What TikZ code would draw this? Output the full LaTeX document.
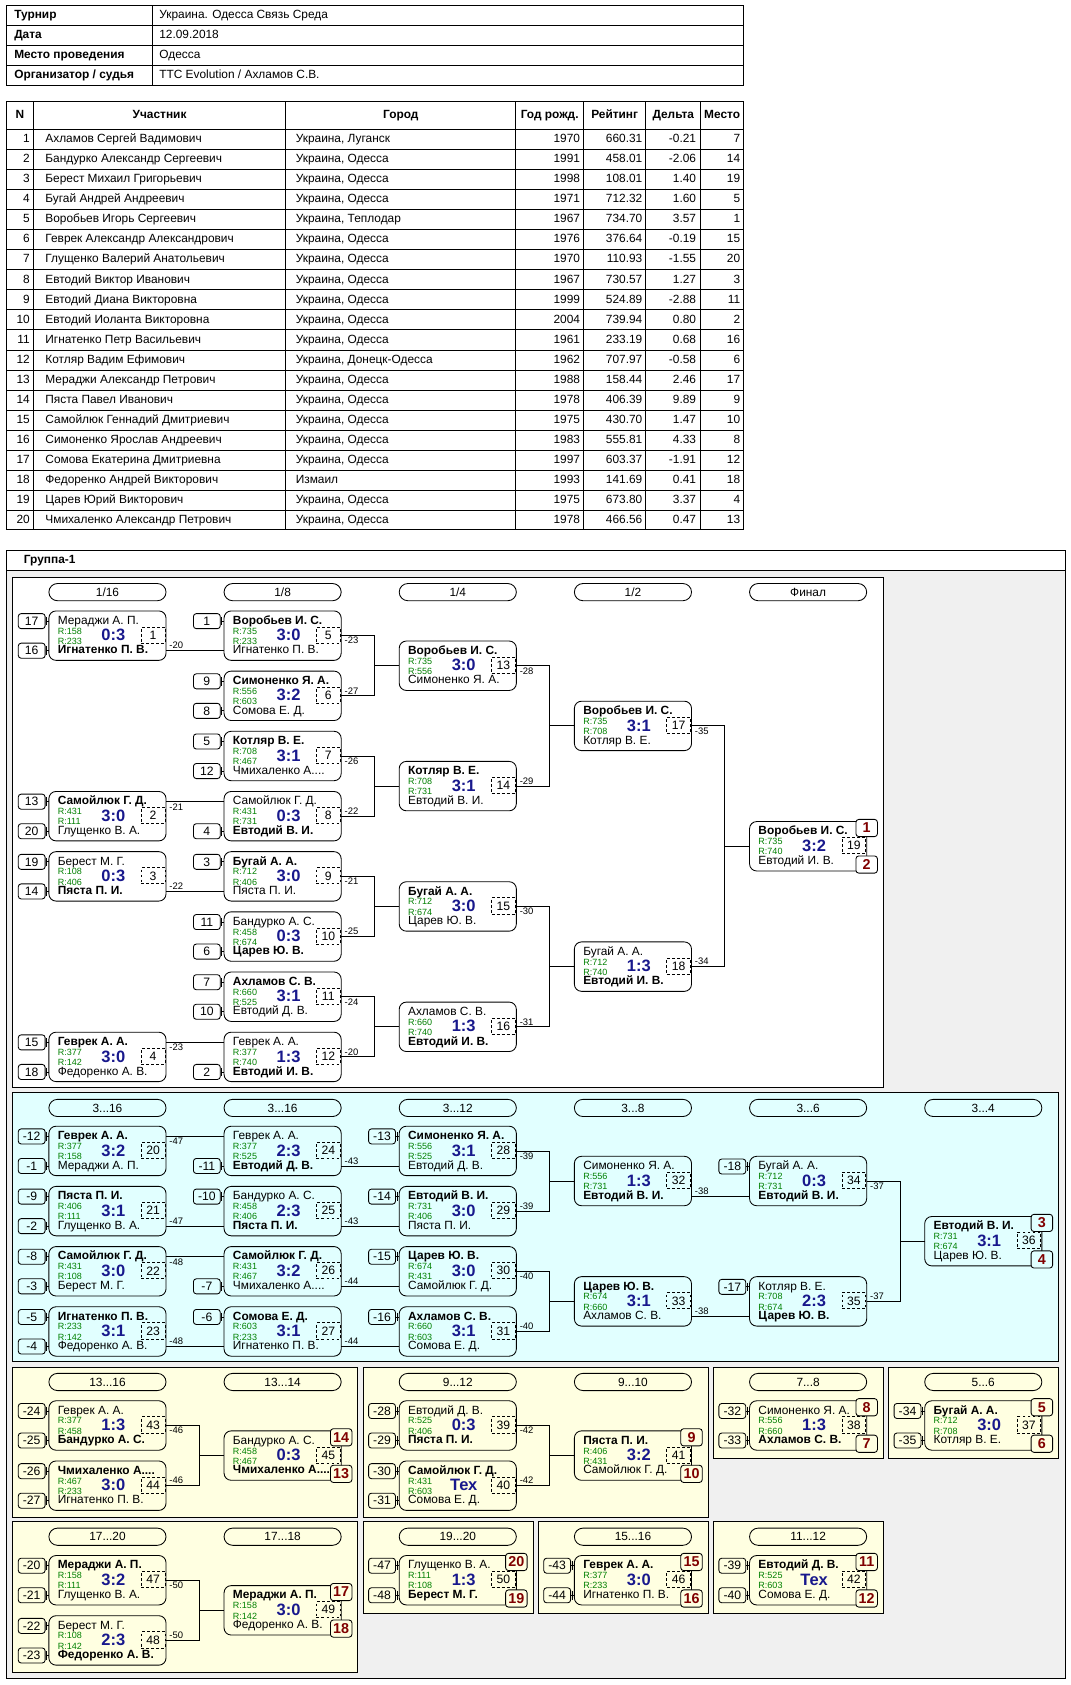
\documentclass[tikz,border=0pt]{standalone}
\usepackage{fontspec}
\setmainfont{Liberation Sans}
\usetikzlibrary{calc}
\definecolor{scorec}{RGB}{24,24,140}
\definecolor{ratc}{RGB}{0,128,0}
\definecolor{placec}{RGB}{128,0,0}
\definecolor{cyanbg}{RGB}{225,255,255}
\definecolor{yelbg}{RGB}{255,255,225}
\definecolor{greybg}{RGB}{240,240,240}
\newcommand\fname{\fontsize{8.3}{9}\selectfont}
\newcommand\frat{\fontsize{6.3}{7}\selectfont}
\newcommand\fscore{\fontsize{11.5}{12}\selectfont\bfseries}
\newcommand\flbl{\fontsize{6.6}{7}\selectfont}
\newcommand\fseed{\fontsize{8.5}{9}\selectfont}
\newcommand\fplace{\fontsize{10}{11}\selectfont\bfseries}
\newcommand\ftab{\fontsize{8.3}{9}\selectfont}
\newcounter{nid}
\def\curbg{white}
\newcommand\mt[9]{%
 \node[mbox] (#1) at ({#2+54.5},{#3+23}) {};
 \coordinate (#1-t) at ({#2+109},{#3+9.5});
 \coordinate (#1-b) at ({#2+109},{#3+37});
 \coordinate (#1-m) at ({#2+109},{#3+23});
 \coordinate (#1-lt) at ({#2},{#3+9.5});
 \coordinate (#1-lb) at ({#2},{#3+37});
 \coordinate (#1-lm) at ({#2},{#3+23});
 \node[nm] (#1-n1) at ({#2+8},{#3+9.5}) {#4};
 \node[nm] (#1-n2) at ({#2+8},{#3+37}) {#5};
 \node[rat] (#1-r1) at ({#2+8},{#3+18.5}) {R:#6};
 \node[rat] (#1-r2) at ({#2+8},{#3+28}) {R:#7};
 \node[sc] (#1-s) at ({#2+60},{#3+22.5}) {#8};
 \node[numb] (#1-k) at ({#2+97},{#3+22.5}) {#9};
}
\newcommand\seed[3]{\stepcounter{nid}%
 \node[seedb] (sd\arabic{nid}) at ({#1-16},{#2}) {#3};
 \draw[ln] (sd\arabic{nid}.east) -- ({#1},{#2});
 \draw[ln] ({#1-2},{#2-4}) -- ({#1-2},{#2+4});}
\newcommand\plc[3]{\stepcounter{nid}\node[plb] (pl\arabic{nid}) at ({#1},{#2}) {#3};}
\newcommand\lbb[2]{\stepcounter{nid}\node[lbl,anchor=north west] (lb\arabic{nid}) at (#1) {#2};}
\newcommand\lba[2]{\stepcounter{nid}\node[lbl,anchor=south west] (lb\arabic{nid}) at (#1) {#2};}
\newcommand\rh[3]{\stepcounter{nid}\node[rhb] (rh\arabic{nid}) at ({#1+54.5},{#2+14}) {#3};}
\newcommand\pair[3]{\draw[ln] (#1-m) -- ++(31,0) |- (#3-lm); \draw[ln] (#2-m) -- ++(31,0) |- (#3-lm);}
\newcommand\info[3]{\node[tl,font=\ftab\bfseries] (ia#1) at (13,{5.25+(#1-0.5)*18.5}) {#2};
 \node[tl] (ib#1) at (148,{5.25+(#1-0.5)*18.5}) {#3};}
\newcommand\prow[7]{%
 \pgfmathsetmacro\ry{120.7+(#1-0.5)*18.63}
 \node[tr] (pa#1) at (28,\ry) {#1};
 \node[tl] (pb#1) at (42,\ry) {#2};
 \node[tl] (pc#1) at (275,\ry) {#3};
 \node[tr] (pd#1) at (540,\ry) {#4};
 \node[tr] (pe#1) at (598,\ry) {#5};
 \node[tr] (pf#1) at (648,\ry) {#6};
 \node[tr] (pg#1) at (689,\ry) {#7};}
\begin{document}
\begin{tikzpicture}[x=0.75pt,y=-0.75pt,
 ln/.style={line width=0.6pt},
 mbox/.style={draw, line width=0.6pt, rounded corners=5pt, minimum width=81.75pt, minimum height=34.5pt, inner sep=0pt},
 nm/.style={anchor=west, inner sep=0pt, font=\fname, text height=6pt, text depth=1.6pt},
 rat/.style={anchor=west, inner sep=0pt, font=\frat, text=ratc, text height=4.6pt, text depth=0pt},
 sc/.style={inner sep=0pt, font=\fscore, text=scorec},
 numb/.style={draw, dash pattern=on 2pt off 1.5pt, line width=0.6pt, minimum width=16.5pt, minimum height=11.25pt, inner sep=0pt, font=\fseed},
 seedb/.style={draw, line width=0.6pt, rounded corners=2pt, minimum width=18.75pt, minimum height=10.5pt, inner sep=0pt, font=\fseed},
 plb/.style={draw, line width=0.6pt, fill=\curbg, rounded corners=2pt, minimum width=15pt, minimum height=12pt, inner sep=0pt, font=\fplace, text=placec},
 rhb/.style={draw, line width=0.6pt, rounded corners=6pt, minimum width=81.75pt, minimum height=12pt, inner sep=0pt, font=\fname},
 lbl/.style={font=\flbl, inner sep=1pt, xshift=1.2pt},
 tl/.style={anchor=west, inner sep=0pt, font=\ftab, text height=6pt, text depth=1.6pt},
 tr/.style={anchor=east, inner sep=0pt, font=\ftab, text height=6pt, text depth=1.6pt},
 tc/.style={inner sep=0pt, font=\ftab\bfseries, text height=6pt, text depth=1.6pt}]
\useasboundingbox (0,0) rectangle (996,1568);
\fill[white] (0,0) rectangle (996,1568);
% ---------- info table
\draw[ln] (6,5.25) rectangle (692,79.25);
\foreach \yy in {23.75,42.25,60.75} \draw[ln] (6,\yy) -- (692,\yy);
\draw[ln] (142,5.25) -- (142,79.25);
\info{1}{Турнир}{Украина. Одесса Связь Среда}
\info{2}{Дата}{12.09.2018}
\info{3}{Место проведения}{Одесса}
\info{4}{Организатор / судья}{TTC Evolution / Ахламов С.В.}
% ---------- players table
\draw[ln] (6,94) rectangle (692,493);
\foreach \k in {0,...,19} \draw[ln] (6,{120.7+\k*18.63}) -- (692,{120.7+\k*18.63});
\foreach \xx in {31,266,480,543,601,652} \draw[ln] (\xx,94) -- (\xx,493);
\node[tc] (hA) at (18.5,107.3) {N};
\node[tc] (hB) at (148.5,107.3) {Участник};
\node[tc] (hC) at (373,107.3) {Город};
\node[tc] (hD) at (511.5,107.3) {Год рожд.};
\node[tc] (hE) at (572,107.3) {Рейтинг};
\node[tc] (hF) at (626.5,107.3) {Дельта};
\node[tc] (hG) at (672,107.3) {Место};
\prow{1}{Ахламов Сергей Вадимович}{Украина, Луганск}{1970}{660.31}{-0.21}{7}
\prow{2}{Бандурко Александр Сергеевич}{Украина, Одесса}{1991}{458.01}{-2.06}{14}
\prow{3}{Берест Михаил Григорьевич}{Украина, Одесса}{1998}{108.01}{1.40}{19}
\prow{4}{Бугай Андрей Андреевич}{Украина, Одесса}{1971}{712.32}{1.60}{5}
\prow{5}{Воробьев Игорь Сергеевич}{Украина, Теплодар}{1967}{734.70}{3.57}{1}
\prow{6}{Геврек Александр Александрович}{Украина, Одесса}{1976}{376.64}{-0.19}{15}
\prow{7}{Глущенко Валерий Анатольевич}{Украина, Одесса}{1970}{110.93}{-1.55}{20}
\prow{8}{Евтодий Виктор Иванович}{Украина, Одесса}{1967}{730.57}{1.27}{3}
\prow{9}{Евтодий Диана Викторовна}{Украина, Одесса}{1999}{524.89}{-2.88}{11}
\prow{10}{Евтодий Иоланта Викторовна}{Украина, Одесса}{2004}{739.94}{0.80}{2}
\prow{11}{Игнатенко Петр Васильевич}{Украина, Одесса}{1961}{233.19}{0.68}{16}
\prow{12}{Котляр Вадим Ефимович}{Украина, Донецк-Одесса}{1962}{707.97}{-0.58}{6}
\prow{13}{Мераджи Александр Петрович}{Украина, Одесса}{1988}{158.44}{2.46}{17}
\prow{14}{Пяста Павел Иванович}{Украина, Одесса}{1978}{406.39}{9.89}{9}
\prow{15}{Самойлюк Геннадий Дмитриевич}{Украина, Одесса}{1975}{430.70}{1.47}{10}
\prow{16}{Симоненко Ярослав Андреевич}{Украина, Одесса}{1983}{555.81}{4.33}{8}
\prow{17}{Сомова Екатерина Дмитриевна}{Украина, Одесса}{1997}{603.37}{-1.91}{12}
\prow{18}{Федоренко Андрей Викторович}{Измаил}{1993}{141.69}{0.41}{18}
\prow{19}{Царев Юрий Викторович}{Украина, Одесса}{1975}{673.80}{3.37}{4}
\prow{20}{Чмихаленко Александр Петрович}{Украина, Одесса}{1978}{466.56}{0.47}{13}
% ---------- group frame
\draw[ln,fill=greybg] (6,512) rectangle (991,1562);
\draw[ln,fill=white] (6,512) rectangle (991,530.5);
\node[tl,font=\ftab\bfseries] (grp) at (22,521.5) {Группа-1};
% ---------- main bracket panel
\draw[ln,fill=white] (12,537) rectangle (822,1012);
\def\curbg{white}
\rh{45.5}{537}{1/16}\rh{208.5}{537}{1/8}\rh{371.5}{537}{1/4}\rh{534.5}{537}{1/2}\rh{697.5}{537}{Финал}
\mt{m1}{45.5}{568.5}{Мераджи А. П.}{\textbf{Игнатенко П. В.}}{158}{233}{0:3}{1}
\mt{m2}{45.5}{736.5}{\textbf{Самойлюк Г. Д.}}{Глущенко В. А.}{431}{111}{3:0}{2}
\mt{m3}{45.5}{792.5}{Берест М. Г.}{\textbf{Пяста П. И.}}{108}{406}{0:3}{3}
\mt{m4}{45.5}{960.5}{\textbf{Геврек А. А.}}{Федоренко А. В.}{377}{142}{3:0}{4}
\mt{m5}{208.5}{568.5}{\textbf{Воробьев И. С.}}{Игнатенко П. В.}{735}{233}{3:0}{5}
\mt{m6}{208.5}{624.5}{\textbf{Симоненко Я. А.}}{Сомова Е. Д.}{556}{603}{3:2}{6}
\mt{m7}{208.5}{680.5}{\textbf{Котляр В. Е.}}{Чмихаленко А....}{708}{467}{3:1}{7}
\mt{m8}{208.5}{736.5}{Самойлюк Г. Д.}{\textbf{Евтодий В. И.}}{431}{731}{0:3}{8}
\mt{m9}{208.5}{792.5}{\textbf{Бугай А. А.}}{Пяста П. И.}{712}{406}{3:0}{9}
\mt{m10}{208.5}{848.5}{Бандурко А. С.}{\textbf{Царев Ю. В.}}{458}{674}{0:3}{10}
\mt{m11}{208.5}{904.5}{\textbf{Ахламов С. В.}}{Евтодий Д. В.}{660}{525}{3:1}{11}
\mt{m12}{208.5}{960.5}{Геврек А. А.}{\textbf{Евтодий И. В.}}{377}{740}{1:3}{12}
\mt{m13}{371.5}{596.5}{\textbf{Воробьев И. С.}}{Симоненко Я. А.}{735}{556}{3:0}{13}
\mt{m14}{371.5}{708.5}{\textbf{Котляр В. Е.}}{Евтодий В. И.}{708}{731}{3:1}{14}
\mt{m15}{371.5}{820.5}{\textbf{Бугай А. А.}}{Царев Ю. В.}{712}{674}{3:0}{15}
\mt{m16}{371.5}{932.5}{Ахламов С. В.}{\textbf{Евтодий И. В.}}{660}{740}{1:3}{16}
\mt{m17}{534.5}{652.5}{\textbf{Воробьев И. С.}}{Котляр В. Е.}{735}{708}{3:1}{17}
\mt{m18}{534.5}{876.5}{Бугай А. А.}{\textbf{Евтодий И. В.}}{712}{740}{1:3}{18}
\mt{m19}{697.5}{764.5}{\textbf{Воробьев И. С.}}{Евтодий И. В.}{735}{740}{3:2}{19}
\seed{45.5}{578}{17}\seed{45.5}{605.5}{16}
\seed{45.5}{746}{13}\seed{45.5}{773.5}{20}
\seed{45.5}{802}{19}\seed{45.5}{829.5}{14}
\seed{45.5}{970}{15}\seed{45.5}{997.5}{18}
\seed{208.5}{578}{1}
\seed{208.5}{634}{9}\seed{208.5}{661.5}{8}
\seed{208.5}{690}{5}\seed{208.5}{717.5}{12}
\seed{208.5}{773.5}{4}
\seed{208.5}{802}{3}
\seed{208.5}{858}{11}\seed{208.5}{885.5}{6}
\seed{208.5}{914}{7}\seed{208.5}{941.5}{10}
\seed{208.5}{997.5}{2}
\draw[ln] (m1-b) -- (m5-lb); \lba{m1-b}{-20}
\draw[ln] (m2-t) -- (m8-lt); \lbb{m2-t}{-21}
\draw[ln] (m3-b) -- (m9-lb); \lba{m3-b}{-22}
\draw[ln] (m4-t) -- (m12-lt); \lbb{m4-t}{-23}
\pair{m5}{m6}{m13}\lbb{m5-m}{-23}\lba{m6-m}{-27}
\pair{m7}{m8}{m14}\lbb{m7-m}{-26}\lba{m8-m}{-22}
\pair{m9}{m10}{m15}\lbb{m9-m}{-21}\lba{m10-m}{-25}
\pair{m11}{m12}{m16}\lbb{m11-m}{-24}\lba{m12-m}{-20}
\pair{m13}{m14}{m17}\lbb{m13-m}{-28}\lba{m14-m}{-29}
\pair{m15}{m16}{m18}\lbb{m15-m}{-30}\lba{m16-m}{-31}
\pair{m17}{m18}{m19}\lbb{m17-m}{-35}\lba{m18-m}{-34}
\plc{806.5}{770.5}{1}\plc{806.5}{804.5}{2}
% ---------- consolation panel
\draw[ln,fill=cyanbg] (12,1017) rectangle (985,1267);
\def\curbg{cyanbg}
\rh{45.5}{1017}{3...16}\rh{208.5}{1017}{3...16}\rh{371.5}{1017}{3...12}\rh{534.5}{1017}{3...8}\rh{697.5}{1017}{3...6}\rh{860.5}{1017}{3...4}
\mt{m20}{45.5}{1048}{\textbf{Геврек А. А.}}{Мераджи А. П.}{377}{158}{3:2}{20}
\mt{m21}{45.5}{1104}{\textbf{Пяста П. И.}}{Глущенко В. А.}{406}{111}{3:1}{21}
\mt{m22}{45.5}{1160}{\textbf{Самойлюк Г. Д.}}{Берест М. Г.}{431}{108}{3:0}{22}
\mt{m23}{45.5}{1216}{\textbf{Игнатенко П. В.}}{Федоренко А. В.}{233}{142}{3:1}{23}
\mt{m24}{208.5}{1048}{Геврек А. А.}{\textbf{Евтодий Д. В.}}{377}{525}{2:3}{24}
\mt{m25}{208.5}{1104}{Бандурко А. С.}{\textbf{Пяста П. И.}}{458}{406}{2:3}{25}
\mt{m26}{208.5}{1160}{\textbf{Самойлюк Г. Д.}}{Чмихаленко А....}{431}{467}{3:2}{26}
\mt{m27}{208.5}{1216}{\textbf{Сомова Е. Д.}}{Игнатенко П. В.}{603}{233}{3:1}{27}
\mt{m28}{371.5}{1048}{\textbf{Симоненко Я. А.}}{Евтодий Д. В.}{556}{525}{3:1}{28}
\mt{m29}{371.5}{1104}{\textbf{Евтодий В. И.}}{Пяста П. И.}{731}{406}{3:0}{29}
\mt{m30}{371.5}{1160}{\textbf{Царев Ю. В.}}{Самойлюк Г. Д.}{674}{431}{3:0}{30}
\mt{m31}{371.5}{1216}{\textbf{Ахламов С. В.}}{Сомова Е. Д.}{660}{603}{3:1}{31}
\mt{m32}{534.5}{1076}{Симоненко Я. А.}{\textbf{Евтодий В. И.}}{556}{731}{1:3}{32}
\mt{m33}{534.5}{1188}{\textbf{Царев Ю. В.}}{Ахламов С. В.}{674}{660}{3:1}{33}
\mt{m34}{697.5}{1076}{Бугай А. А.}{\textbf{Евтодий В. И.}}{712}{731}{0:3}{34}
\mt{m35}{697.5}{1188}{Котляр В. Е.}{\textbf{Царев Ю. В.}}{708}{674}{2:3}{35}
\mt{m36}{860.5}{1132}{\textbf{Евтодий В. И.}}{Царев Ю. В.}{731}{674}{3:1}{36}
\seed{45.5}{1057.5}{-12}\seed{45.5}{1085}{-1}
\seed{45.5}{1113.5}{-9}\seed{45.5}{1141}{-2}
\seed{45.5}{1169.5}{-8}\seed{45.5}{1197}{-3}
\seed{45.5}{1225.5}{-5}\seed{45.5}{1253}{-4}
\seed{208.5}{1085}{-11}\seed{208.5}{1113.5}{-10}\seed{208.5}{1197}{-7}\seed{208.5}{1225.5}{-6}
\seed{371.5}{1057.5}{-13}\seed{371.5}{1113.5}{-14}\seed{371.5}{1169.5}{-15}\seed{371.5}{1225.5}{-16}
\seed{697.5}{1085.5}{-18}\seed{697.5}{1197.5}{-17}
\draw[ln] (m20-t) -- (m24-lt); \lbb{m20-t}{-47}
\draw[ln] (m21-b) -- (m25-lb); \lba{m21-b}{-47}
\draw[ln] (m22-t) -- (m26-lt); \lbb{m22-t}{-48}
\draw[ln] (m23-b) -- (m27-lb); \lba{m23-b}{-48}
\draw[ln] (m24-b) -- (m28-lb); \lba{m24-b}{-43}
\draw[ln] (m25-b) -- (m29-lb); \lba{m25-b}{-43}
\draw[ln] (m26-b) -- (m30-lb); \lba{m26-b}{-44}
\draw[ln] (m27-b) -- (m31-lb); \lba{m27-b}{-44}
\pair{m28}{m29}{m32}\lbb{m28-m}{-39}\lba{m29-m}{-39}
\pair{m30}{m31}{m33}\lbb{m30-m}{-40}\lba{m31-m}{-40}
\draw[ln] (m32-b) -- (m34-lb); \lba{m32-b}{-38}
\draw[ln] (m33-b) -- (m35-lb); \lba{m33-b}{-38}
\pair{m34}{m35}{m36}\lbb{m34-m}{-37}\lba{m35-m}{-37}
\plc{969.5}{1138}{3}\plc{969.5}{1172}{4}
% ---------- lower panels
\def\curbg{yelbg}
\draw[ln,fill=yelbg] (12,1272) rectangle (333,1412);
\draw[ln,fill=yelbg] (338,1272) rectangle (659,1412);
\draw[ln,fill=yelbg] (664,1272) rectangle (822,1357);
\draw[ln,fill=yelbg] (827,1272) rectangle (985,1357);
\draw[ln,fill=yelbg] (12,1416) rectangle (333,1556);
\draw[ln,fill=yelbg] (338,1416) rectangle (496,1501);
\draw[ln,fill=yelbg] (501,1416) rectangle (659,1501);
\draw[ln,fill=yelbg] (664,1416) rectangle (822,1501);
\rh{45.5}{1272}{13...16}\rh{208.5}{1272}{13...14}
\rh{371.5}{1272}{9...12}\rh{534.5}{1272}{9...10}
\rh{697.5}{1272}{7...8}\rh{860.5}{1272}{5...6}
\rh{45.5}{1416}{17...20}\rh{208.5}{1416}{17...18}
\rh{371.5}{1416}{19...20}\rh{534.5}{1416}{15...16}\rh{697.5}{1416}{11...12}
\mt{m43}{45.5}{1303.5}{Геврек А. А.}{\textbf{Бандурко А. С.}}{377}{458}{1:3}{43}
\mt{m44}{45.5}{1359.5}{\textbf{Чмихаленко А....}}{Игнатенко П. В.}{467}{233}{3:0}{44}
\mt{m45}{208.5}{1331.5}{Бандурко А. С.}{\textbf{Чмихаленко А....}}{458}{467}{0:3}{45}
\mt{m39}{371.5}{1303.5}{Евтодий Д. В.}{\textbf{Пяста П. И.}}{525}{406}{0:3}{39}
\mt{m40}{371.5}{1359.5}{\textbf{Самойлюк Г. Д.}}{Сомова Е. Д.}{431}{603}{Тех}{40}
\mt{m41}{534.5}{1331.5}{\textbf{Пяста П. И.}}{Самойлюк Г. Д.}{406}{431}{3:2}{41}
\mt{m38}{697.5}{1303.5}{Симоненко Я. А.}{\textbf{Ахламов С. В.}}{556}{660}{1:3}{38}
\mt{m37}{860.5}{1303.5}{\textbf{Бугай А. А.}}{Котляр В. Е.}{712}{708}{3:0}{37}
\mt{m47}{45.5}{1447.5}{\textbf{Мераджи А. П.}}{Глущенко В. А.}{158}{111}{3:2}{47}
\mt{m48}{45.5}{1503.5}{Берест М. Г.}{\textbf{Федоренко А. В.}}{108}{142}{2:3}{48}
\mt{m49}{208.5}{1475.5}{\textbf{Мераджи А. П.}}{Федоренко А. В.}{158}{142}{3:0}{49}
\mt{m50}{371.5}{1447.5}{Глущенко В. А.}{\textbf{Берест М. Г.}}{111}{108}{1:3}{50}
\mt{m46}{534.5}{1447.5}{\textbf{Геврек А. А.}}{Игнатенко П. В.}{377}{233}{3:0}{46}
\mt{m42}{697.5}{1447.5}{\textbf{Евтодий Д. В.}}{Сомова Е. Д.}{525}{603}{Тех}{42}
\seed{45.5}{1313}{-24}\seed{45.5}{1340.5}{-25}\seed{45.5}{1369}{-26}\seed{45.5}{1396.5}{-27}
\seed{371.5}{1313}{-28}\seed{371.5}{1340.5}{-29}\seed{371.5}{1369}{-30}\seed{371.5}{1396.5}{-31}
\seed{697.5}{1313}{-32}\seed{697.5}{1340.5}{-33}
\seed{860.5}{1313}{-34}\seed{860.5}{1340.5}{-35}
\seed{45.5}{1457}{-20}\seed{45.5}{1484.5}{-21}\seed{45.5}{1513}{-22}\seed{45.5}{1540.5}{-23}
\seed{371.5}{1457}{-47}\seed{371.5}{1484.5}{-48}
\seed{534.5}{1457}{-43}\seed{534.5}{1484.5}{-44}
\seed{697.5}{1457}{-39}\seed{697.5}{1484.5}{-40}
\pair{m43}{m44}{m45}\lbb{m43-m}{-46}\lba{m44-m}{-46}
\pair{m39}{m40}{m41}\lbb{m39-m}{-42}\lba{m40-m}{-42}
\pair{m47}{m48}{m49}\lbb{m47-m}{-50}\lba{m48-m}{-50}
\plc{317.5}{1337.5}{14}\plc{317.5}{1371.5}{13}
\plc{643.5}{1337.5}{9}\plc{643.5}{1371.5}{10}
\plc{806.5}{1309.5}{8}\plc{806.5}{1343.5}{7}
\plc{969.5}{1309.5}{5}\plc{969.5}{1343.5}{6}
\plc{317.5}{1481.5}{17}\plc{317.5}{1515.5}{18}
\plc{480.5}{1453.5}{20}\plc{480.5}{1487.5}{19}
\plc{643.5}{1453.5}{15}\plc{643.5}{1487.5}{16}
\plc{806.5}{1453.5}{11}\plc{806.5}{1487.5}{12}
\end{tikzpicture}
\end{document}
